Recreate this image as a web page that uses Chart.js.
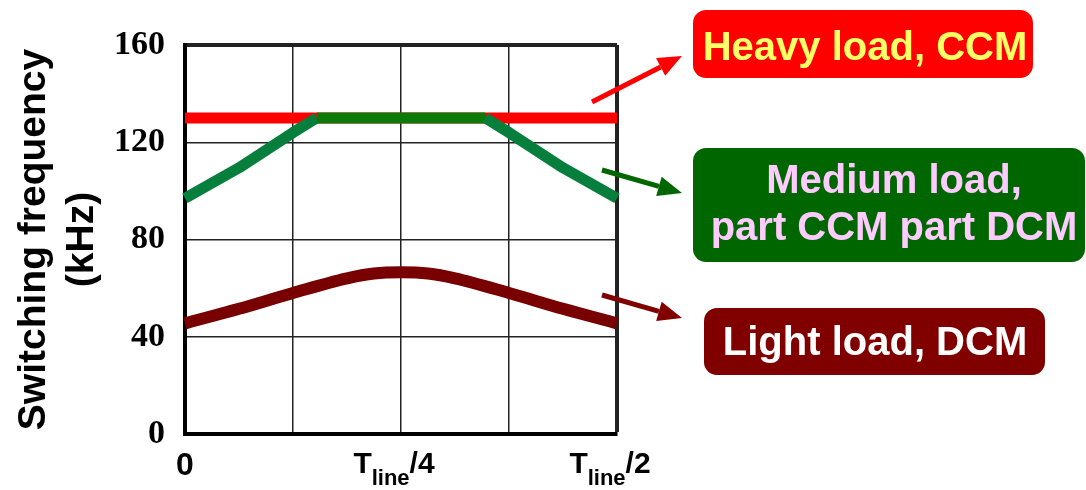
<!DOCTYPE html>
<html>
<head>
<meta charset="utf-8">
<script src="https://cdn.jsdelivr.net/npm/chart.js@4/dist/chart.umd.min.js"></script>
<style>
    body { margin: 0; background: #fff; }
    #wrap { width: 1086px; height: 490px; position: relative; }
</style>
</head>
<body>
<div id="wrap"><canvas id="freqChart"></canvas></div>
<script>
// time axis: 0 .. 4 quarters of Tline/2
const heavyX = [0, 4]
const heavyY = [130, 130]

const mediumX = [0, 0.5, 1, 1.22, 2.78, 3, 3.5, 4]
const mediumY = [97, 109.5, 124, 130, 130, 124, 109.5, 97]

const lightX = [0, 0.5, 1, 1.5, 1.75, 2, 2.25, 2.5, 3, 3.5, 4]
const lightY = [45.5, 51.5, 58, 64, 66, 66.5, 66, 64, 58, 51.5, 45.5]

// x tick labels: main part, subscript, tail
const xLabelAt = [0, 2, 4]
const xLabelMain = ['0', 'T', 'T']
const xLabelSub = ['', 'line', 'line']
const xLabelTail = ['', '/4', '/2']

const yTitle = ['Switching frequency', '(kHz)']

// callout boxes
const callouts = [
    { lines: ['Heavy load, CCM'], box: [693, 10, 340, 68], fill: '#ff0000', color: '#ffff66', cx: 865, base: [60], arrow: [592, 102, 682, 56] },
    { lines: ['Medium load,', 'part CCM part DCM'], box: [693, 148, 392, 114], fill: '#006600', color: '#ffccff', cx: 894, base: [193, 240], arrow: [602, 170, 682, 193] },
    { lines: ['Light load, DCM'], box: [704, 308, 341, 67], fill: '#800000', color: '#ffffff', cx: 875, base: [355], arrow: [602, 295, 682, 318] }
]

function toPoints(xs, ys) {
    return xs.map((x, i) => ({ x: x, y: ys[i] }))
}

function drawArrow(ctx, x1, y1, x2, y2, color) {
    var ang = Math.atan2(y2 - y1, x2 - x1)
    var len = 24, half = 10
    var bx = x2 - len * Math.cos(ang), by = y2 - len * Math.sin(ang)
    ctx.strokeStyle = color
    ctx.fillStyle = color
    ctx.lineWidth = 5
    ctx.beginPath()
    ctx.moveTo(x1, y1)
    ctx.lineTo(bx, by)
    ctx.stroke()
    ctx.beginPath()
    ctx.moveTo(x2, y2)
    ctx.lineTo(bx + half * Math.sin(ang), by - half * Math.cos(ang))
    ctx.lineTo(bx - half * Math.sin(ang), by + half * Math.cos(ang))
    ctx.closePath()
    ctx.fill()
}

var ctx = document.getElementById('freqChart').getContext('2d')
var freqChart = new Chart(ctx, {
    type: 'line',
    data: {
        datasets: [{
            label: 'Medium load',
            data: toPoints(mediumX, mediumY),
            borderColor: '#077f3c',
            borderWidth: 11,
            segment: {
                borderColor: c => (c.p0.parsed.y === c.p1.parsed.y ? '#0a7a0a' : '#077f3c')
            },
            order: 1
        }, {
            label: 'Heavy load',
            data: toPoints(heavyX, heavyY),
            borderColor: '#ff0000',
            borderWidth: 11,
            order: 2
        }, {
            label: 'Light load',
            data: toPoints(lightX, lightY),
            borderColor: '#780000',
            borderWidth: 12,
            cubicInterpolationMode: 'monotone',
            order: 3
        }]
    },
    options: {
        responsive: true,
        maintainAspectRatio: false,
        animation: false,
        clip: false,
        layout: {
            padding: { top: 45, right: 469, bottom: 0, left: 0 }
        },
        elements: {
            point: { radius: 0 },
            line: { borderCapStyle: 'butt', borderJoinStyle: 'round' }
        },
        plugins: {
            legend: { display: false },
            tooltip: { enabled: false }
        },
        scales: {
            x: {
                type: 'linear',
                min: 0,
                max: 4,
                z: 1,
                afterFit: s => { s.height = 56 },
                ticks: { display: false, stepSize: 1 },
                grid: {
                    drawTicks: false,
                    color: '#222',
                    lineWidth: c => (c.tick && c.tick.value === 4 ? 4 : 1.5)
                },
                border: { display: true, width: 4, color: '#000' }
            },
            y: {
                min: 0,
                max: 160,
                z: 1,
                afterFit: s => { s.width = 185 },
                ticks: {
                    stepSize: 40,
                    padding: 20,
                    color: '#000',
                    font: { family: '"Liberation Serif", serif', weight: 'bold', size: 34 }
                },
                grid: {
                    drawTicks: false,
                    color: '#222',
                    lineWidth: c => (c.tick && c.tick.value === 160 ? 4 : 1.5)
                },
                border: { display: true, width: 4, color: '#000' },
                title: {
                    display: true,
                    text: yTitle,
                    color: '#000',
                    padding: { top: 10, bottom: 0 },
                    font: { family: '"Liberation Sans", Arial, sans-serif', weight: 'bold', size: 39, lineHeight: 1.23 }
                }
            }
        }
    },
    plugins: [{
        afterDraw: function (chart) {
            var c = chart.ctx
            var xs = chart.scales.x
            c.save()
            c.fillStyle = '#000'
            c.textBaseline = 'alphabetic'
            c.textAlign = 'left'

            // x tick labels with subscript
            xLabelAt.forEach((v, i) => {
                var px = xs.getPixelForValue(v)
                c.font = 'bold 32px "Liberation Sans", Arial, sans-serif'
                if (!xLabelSub[i]) {
                    var w0 = c.measureText(xLabelMain[i]).width
                    c.fillText(xLabelMain[i], px - w0 / 2, 475)
                    return
                }
                c.font = 'bold 30px "Liberation Sans", Arial, sans-serif'
                var wm = c.measureText(xLabelMain[i]).width
                var wt = c.measureText(xLabelTail[i]).width
                c.font = 'bold 22px "Liberation Sans", Arial, sans-serif'
                var ws = c.measureText(xLabelSub[i]).width
                var x0 = px - 7 - (wm + ws + wt) / 2
                c.font = 'bold 30px "Liberation Sans", Arial, sans-serif'
                c.fillText(xLabelMain[i], x0, 473)
                c.fillText(xLabelTail[i], x0 + wm + ws, 473)
                c.font = 'bold 22px "Liberation Sans", Arial, sans-serif'
                c.fillText(xLabelSub[i], x0 + wm, 485)
            })

            // callouts and arrows
            callouts.forEach(co => {
                var b = co.box
                c.fillStyle = co.fill
                c.beginPath()
                c.roundRect(b[0], b[1], b[2], b[3], 13)
                c.fill()
                c.fillStyle = co.color
                c.font = 'bold 40px "Liberation Sans", Arial, sans-serif'
                c.textAlign = 'center'
                co.lines.forEach((t, j) => c.fillText(t, co.cx, co.base[j]))
                var a = co.arrow
                drawArrow(c, a[0], a[1], a[2], a[3], co.fill)
            })
            c.restore()
        }
    }]
});
</script>
</body>
</html>
